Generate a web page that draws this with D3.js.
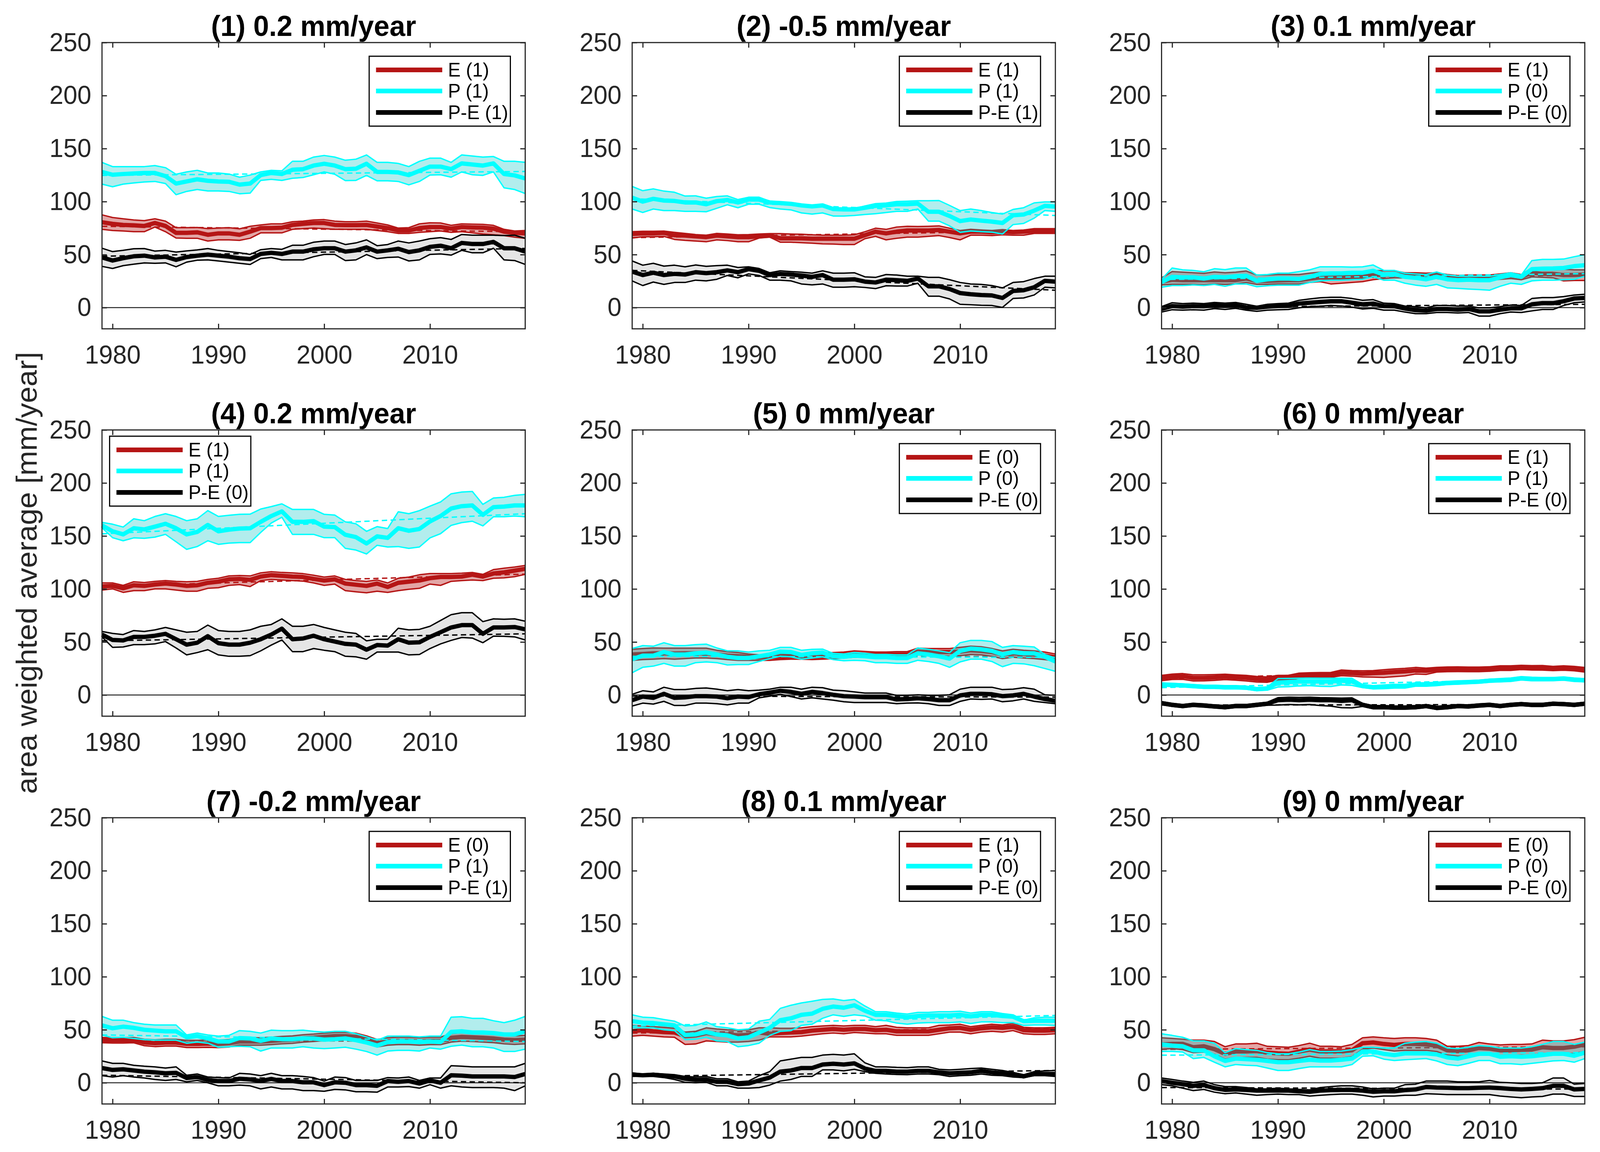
<!DOCTYPE html>
<html>
<head>
<meta charset="utf-8">
<script src="https://cdn.jsdelivr.net/npm/d3@7"></script>
<style>
  html, body { margin: 0; padding: 0; background: #fff; overflow: hidden; width: 100%; height: 100%; }
  svg { display: block; width: 100vw; height: 100vh; }
  text { font-family: "Liberation Sans", Arial, Helvetica, sans-serif; }
</style>
</head>
<body>
<svg id="chart" viewBox="0 0 4204 2950" preserveAspectRatio="none"></svg>
<script>
// ---------------- DATA ----------------
const yearStart = 1979, yearEnd = 2019;
const xTicks = [1980, 1990, 2000, 2010];
const yTicks = [0, 50, 100, 150, 200, 250];
const yLabel = "area weighted average [mm/year]";
const titles = ["(1) 0.2 mm/year", "(2) -0.5 mm/year", "(3) 0.1 mm/year",
                "(4) 0.2 mm/year", "(5) 0 mm/year", "(6) 0 mm/year",
                "(7) -0.2 mm/year", "(8) 0.1 mm/year", "(9) 0 mm/year"];
const legendE = ["E (1)", "E (1)", "E (1)", "E (1)", "E (0)", "E (1)", "E (0)", "E (1)", "E (0)"];
const legendP = ["P (1)", "P (1)", "P (0)", "P (1)", "P (0)", "P (1)", "P (1)", "P (0)", "P (0)"];
const legendD = ["P-E (1)", "P-E (1)", "P-E (0)", "P-E (0)", "P-E (0)", "P-E (0)", "P-E (1)", "P-E (0)", "P-E (0)"];

// Panel 1
const p1E   = [80.5,79,78,77.6,77,79.8,77,70.5,70.5,71,68.7,70,70,68.7,71.6,75,75,75.4,78,79,79.8,79.8,78,77.8,77.8,78,76.5,75,72.7,72.7,75,76,76,74.5,76,75.6,75.4,74.5,71.6,70.5,70];
const p1Ehi = [87.5,85,83.8,82.7,82,83.8,81.6,75.4,75.4,75.6,74.5,75,75.4,74.3,76.7,78,79,79,81,81.6,82.7,83,81.6,81,81,81.6,79.8,78,75,75.4,79,80,79.8,77.6,79,78.7,78.5,77.6,73.8,72.3,72.7];
const p1Elo = [73.8,72.7,72.3,71.6,71.6,76,71.6,65.6,65.4,65.4,62.8,63.9,63.9,63.4,65.4,70.5,70.5,70.5,73.8,74.5,75,74.5,73.8,73.8,73.8,73.8,72.7,71.6,70,70,71,71.6,72.3,71,71.6,70.5,69.4,68.7,67.9,66.5,65.4];
const p1P   = [128,125.3,126,126.5,127,127,124,117,119,121,119.6,119,118.7,116,117,125,127,126,130,130.6,134,135.7,134,130.6,131,135.7,128,128,127.5,125,129,133,133,130.6,136,135,134,136,126,124.7,121.8];
const p1Phi = [137,133,133,133,133,134,132,125.8,128,129.5,127,127,126,123,125,128,129.5,129,138,138,142,143.5,142,139,140,144,137,137,136,133,138,141,141,137,144,143,142,142.5,138,138,137];
const p1Plo = [116.5,114,116.5,117.6,118.5,119,117,106.5,109.6,111.4,110,110,109.6,107.4,108,120,121,120,122,122.7,125.3,128,125.8,119.8,120,124.7,119.6,119.6,119,115.8,119,125,125.3,123,128,125.3,124.7,128,113,111.4,107.6];
const p1D   = [47.3,44.4,46.6,48.4,49,47.3,48,45,47.7,49,50,49,48,46.6,45.8,50.6,51.7,50.6,52.8,52.8,55,56,56,52.8,54,56.8,52.8,54,55.5,52.4,54,57.3,58.4,56,61,60,60,62,56,56,52.8];
const p1Dhi = [56,52.8,54,55.5,55.7,53.3,54,52.4,53.5,54.4,55.7,54,52.8,51.7,50.2,54.6,55.7,55,58.8,58.8,61.7,62.8,62.8,59.5,61,63.9,58.4,59.5,62.8,61,62.8,65,66,64.3,69,68.3,68.3,68.3,67.9,68.3,65.4];
const p1Dlo = [38.9,36.9,39.6,41,42.2,41.8,42.2,38.5,42.9,44.7,45,44,42.9,41.8,40.7,46.2,47.3,45,45,45,48,50.2,50.2,44.4,45,50,46.2,47.3,47.7,44,45,50.2,50.6,49.5,54,51.7,51.7,56,45,44.4,40.7];
const p1Etr = [76.7, 71.5], p1Ptr = [124.7, 128.4], p1Dtr = [48.5, 55.8];

// Panel 2
const p2E   = [69.4,70,70,70.5,68.3,67.9,67.2,66.5,67.9,67.2,66.5,66.5,67.2,67.9,65.4,65.4,65.4,65,65,65,65,65,68.3,71.6,70,71.6,72.7,72.7,72.7,73.2,71.6,70,71.6,71.6,71,71.6,71.2,71.6,72.3,72.3,72.3];
const p2Ehi = [71.6,72,72,72.2,71,70,68.9,68.3,70,69.4,68.7,68.9,69.4,69.8,69.8,69.4,69.2,68.7,68.3,68.3,68.3,68.7,71.6,74.9,73.8,76,76.7,76.5,76.7,77.1,74.9,72.7,73.8,73.2,72.7,73.6,72.7,73.2,74.5,74.5,74.5];
const p2Elo = [65.6,66.8,66.8,67.2,64.3,63.4,62.8,62.1,63.9,63.2,62.1,62.1,65.6,66.5,61.7,61.7,61.2,60.8,60.1,59.9,59.5,59.5,65,67.2,63.9,65.4,66.5,66.5,67.2,67.9,66.1,63.9,68.3,68.3,67.9,68.7,68.3,68.3,70,70,70];
const p2P   = [103.7,100,102.6,101,100.6,99.2,99.2,97.5,100.4,101.5,99.2,101.9,101.9,99.2,98.6,97.9,96.4,95.5,96.4,93,92.6,92.6,94.2,95.9,96.4,97.5,97.5,98.1,90.4,90.4,86.4,81.6,83.1,82,81.1,79.8,87.1,87.8,91.5,95.9,95.3];
const p2Phi = [114.3,110.3,112,109.9,108.8,105.2,105.4,103.2,104.8,105.4,101.9,104.1,104.1,100.4,99.8,98.6,97,95.5,97.5,93.7,93.3,93.3,95.9,98.1,98.6,100.1,100.4,100.8,100.8,101,96.4,91.5,93,91.5,89.7,88.2,92.6,94.2,98.8,99.7,99.7];
const p2Plo = [93,89.7,93,91.5,91.5,90.8,90.8,90.4,93.7,97,94.2,97.5,97.5,94.4,93,92.2,89.3,88.2,89.3,86.4,86.4,86.9,87.8,88.6,89.7,90.8,90.8,93,81.6,81.6,77.1,71,72.3,71.6,71.2,69.4,78.3,79.4,84.4,91.5,90.8];
const p2D   = [34,30.7,32.9,30.7,31.8,31.2,33.4,32.5,33.4,35.1,33.4,36.3,34.7,30.7,31.8,31.2,30.3,29,30.7,26.3,26.3,26.7,24.5,23.7,26.3,25.9,25.2,27.4,20.1,20.1,17.5,13.7,12.6,11.9,11.5,9.1,15.7,16.4,19.2,25.2,24.5];
const p2Dhi = [44,40,41.8,39.1,40,38.5,40.2,38.9,39.6,40,37.8,38.5,36.9,32.9,34.7,34,33.4,32.5,34.7,32.5,32.5,32.9,29,28.5,31.2,30.7,29.6,29.6,28.5,28.5,26.3,23.7,22.3,21.9,20.8,18.6,23.7,24.5,27.4,29.6,29.6];
const p2Dlo = [25.2,20.8,24.1,21.9,23.7,23.7,25.9,25.2,26.7,30.3,28.1,31.8,30.3,25.9,25.9,25.2,22.3,21.4,22.3,19.2,19.2,19.7,19,17.9,20.6,20.3,20.3,23,10.8,10.8,8.2,3.1,2.7,2.2,2,0.2,8.6,9.1,11.9,19.2,18.6];
const p2Etr = [66, 72.5], p2Ptr = [102.7, 86.9], p2Dtr = [35.1, 16.4];

// Panel 3
const p3E   = [24.5,26.3,25.9,25.9,25.9,25.9,25.9,25.9,27.4,25.2,25.2,25.6,25.9,25.9,27.4,28.5,28.1,28.5,28.5,29,30.7,31.2,31.4,30.7,30.7,30.3,30.7,29,28.1,28.5,28.5,28.5,29.6,30.3,29,32.9,31.8,31.8,30.7,30.7,31.2];
const p3Ehi = [28.1,34,33.4,32.9,32.3,33.6,32.9,33.4,34.5,30.7,30.7,31.2,31.2,31.2,32.5,33.4,32.9,33.4,33.4,33.8,35.1,34.7,34.7,32.9,32.9,32.5,32.9,31.2,30.3,30.7,30.7,30.7,31.8,32.9,31.2,37.4,36.9,36.9,36.3,35.6,35.6];
const p3Elo = [21.4,21.9,21.9,21.9,21.4,22.3,21.9,22.3,23.7,21.9,21.9,22.3,22.3,22.3,23.7,24.5,22.3,23,23.7,24.5,26.3,27.4,28.1,28.1,28.1,27.4,27.4,26.3,25.6,25.9,25.9,25.9,26.7,27.4,26.3,29,28.5,28.1,25.2,25.6,25.6];
const p3P   = [24.1,29,28.5,28.5,27.4,29,28.5,29.6,30,25.2,26.7,27.4,27.4,27,29,31.8,32.3,32.3,32.9,32.9,34.7,31.2,31.8,29,28.1,26.7,29,26.7,25.9,26.3,25.9,25.9,28.5,30.7,29,36.3,36.7,36.9,37.4,39.1,40];
const p3Phi = [26.7,37.4,35.6,35.1,33.8,36.7,35.8,37.4,37.4,30.7,31.2,32.5,32.5,34,35.6,38.5,38.5,38.5,38.2,38.5,40.2,35.1,35.1,32.5,31.8,31.2,33.6,30.7,29.6,29.6,29.6,29.6,31.2,32.9,30.7,44.4,45.5,45.5,45.8,48,50];
const p3Plo = [19.2,20.8,20.8,21.4,20.8,21.9,20.1,22.3,22.3,19.7,20.6,21.2,21.2,21.2,23.7,25.2,25.9,25.9,26.3,26.7,29,25.9,25.9,23,21.2,20.1,21.9,18.6,18.1,17.5,17,16.4,20.1,23,21.9,25.2,25.9,25.9,26.3,26.7,29.6];
const p3D   = [-1.3,1.5,0.9,1.5,1.3,2.4,2,2.4,0.2,-0.2,0.9,1.5,2,3.8,4.6,5.3,6,6,4.6,3.1,3.8,1.5,1.3,-0.9,-2.4,-2.9,-1.3,-1.3,-2,-1.3,-3.5,-3.5,-2,-0.7,-0.7,3.1,4.2,4.2,6,8.6,9.1];
const p3Dhi = [0.9,4.6,3.8,4.2,3.8,4.9,4.2,4.9,3.1,1.3,3.1,3.8,4.2,6.9,8.2,9.3,9.7,9.7,8.6,6.9,7.5,4.2,3.8,1.5,0.9,-0.2,2,2,1.5,1.5,-0.2,-0.2,0.9,2.4,2,8.6,9.5,9.5,10.4,11.9,12.6];
const p3Dlo = [-4.2,-2,-2.4,-2,-2.4,-0.9,-1.8,-0.7,-2.4,-3.5,-2.4,-2,-1.8,-0.2,0.9,1.3,2,1.5,0.4,-1.3,-0.7,-2.4,-2.4,-4.2,-5.7,-5.7,-4.6,-4.6,-5.1,-4.6,-8,-8,-5.7,-4.2,-4.6,-3.1,-1.8,-1.8,2,4.6,5.3];
const p3Etr = [26.5, 30.5], p3Ptr = [26.5, 32], p3Dtr = [0.2, 3.1];

// Panel 4
const p4E   = [102.4,102.9,100.7,103.5,102.9,104.2,105.1,104.2,102.9,103.5,105.8,106.9,109.1,109.5,108.6,111.7,113.1,112.4,111.7,111.3,109.5,108,109.1,105.1,104,102.9,105.1,101.9,105.8,106.9,108,110.2,111.3,111.3,111.7,113.5,111.7,114.6,115.7,117.3,119];
const p4Ehi = [105.7,105.7,103.4,106.8,106.1,107.2,107.9,107.2,106.8,107.2,109,110.1,112.3,112.7,112.3,115.2,116.3,115.6,115.2,114.5,113,111.2,112.3,109,107.9,107.2,108.5,105.7,110.1,111.2,113.4,114.5,114.5,114.5,114.9,115.6,113.8,118.3,119.6,120.7,122.2];
const p4Elo = [99,100.1,96.8,98.4,98.4,100.1,100.1,99,97.9,97.9,100.6,101.2,103.4,104.1,102.3,107.9,109,108.5,107.9,107.4,105.7,103.4,104.6,98.4,97.3,96.4,97.9,96.8,98.4,99.7,100.6,104.6,103.4,107.2,107.9,108.5,107.9,110.1,110.5,111.6,113.8];
const p4P   = [160,154.4,151.5,157.3,156.2,158.8,161.5,157.3,151.5,153.8,160.4,154.4,156,157,157.3,163.3,168.8,173.2,163.3,163.3,164,158.8,158.4,151.1,148.9,142.9,149.6,148.2,157.3,154.9,156.6,163.7,168.8,175.9,178.1,178.8,169.9,177.2,177.7,178.8,178.8];
const p4Phi = [162.8,161.1,158.4,166.2,164.4,168.4,171,168.4,164.4,166.2,173.9,168.4,169.5,170.4,170.6,175.4,177.7,180.3,175,175,175,170.4,169.7,163.3,161.5,154.4,158.8,157,172.8,171,173.9,178.1,182.1,189.8,191.4,192,179.8,185.8,186.5,188.3,189.2];
const p4Plo = [157.7,148.4,145.5,148.2,147.8,148.9,151.5,144.5,137.4,140,145.5,142.1,143.3,143.7,143.7,153.3,162.2,167.7,151.5,151.5,151.5,148.4,148.4,138.3,136.7,133,141.2,139.6,140,138.3,139.6,148.2,152.2,160,162.6,163.9,159.5,168.1,168.1,168.8,168.1];
const p4D   = [57,51.9,51.5,54.8,54.8,55.9,57.7,52.6,47.5,49.3,55.5,48.9,47.5,47.5,49.3,52.6,57,62.6,52.6,53.3,55.9,52.6,50.4,48.2,47.5,42.7,47.1,46.6,52.6,49.3,49.7,54.8,59.2,63.7,65.9,65.9,57.7,63.7,63.7,64.1,61.9];
const p4Dhi = [59.9,58.1,57,60.8,59.9,61.4,63.7,61.4,59.2,59.9,65.9,60.8,59.9,59.9,61.4,64.8,66.5,71.8,64.8,64.8,66.5,63.7,61.4,59.2,58.1,51.1,52.6,52.6,63,61.4,61.9,64.8,70.3,75.8,77.6,77.6,69.2,71.8,71.4,71.8,69.6];
const p4Dlo = [54.8,44.9,45.3,47.5,47.5,48.2,50.4,44.4,37.8,40,42.7,37.8,36.5,36.5,37.1,41.6,47.1,51.9,40.9,40.9,43.8,42.2,40.9,36.5,36,33.8,40.5,40.5,40.5,37.8,38.2,43.8,48.2,51.5,54.2,53.7,49.3,55.5,55.3,54.8,51.9];
const p4Etr = [102.5, 114], p4Ptr = [152, 171], p4Dtr = [51.1, 57.7];

// Panel 5
const p5E   = [38.2,38.7,39.3,39.3,39.1,39.3,39.3,39.3,38.2,37.1,36.5,36,35.6,35.6,36,36.5,36.5,36,36.5,37.1,37.8,38.7,38.2,37.8,37.8,38.2,38.2,40.9,40.5,40.5,40.5,40.9,42.2,41.6,40.5,38.2,39.3,38.7,38.2,37.1,35.6];
const p5Ehi = [43.1,43.8,44.4,44.2,44.2,44.2,44.2,44.2,42.2,40.9,40,38.7,37.8,38.2,38.7,38.7,38.7,38.7,39.3,40,40.5,41.6,41.1,40.5,40.5,40.9,40.9,44.2,43.8,43.8,43.8,44.9,46,45.5,43.8,41.6,43.1,42.2,41.6,40.5,38.7];
const p5Elo = [32.7,33.4,33.8,34.3,33.8,34.3,34.9,34.9,34.3,33.4,32.7,32.7,32.7,32.7,33.4,33.8,33.8,33.4,33.8,34.3,34.9,35.6,35.6,34.9,34.9,35.6,35.6,37.8,37.1,37.1,36.5,37.1,38.2,37.8,36.5,34.3,35.6,34.9,34.3,33.4,32.1];
const p5P   = [33.8,37.1,37.1,40.5,38.2,38.2,39.3,40,38.2,36,34.9,34.9,36.5,38.2,40.9,40.5,37.8,39.3,40,36.5,36,37.1,36.5,35.6,35.6,34.9,34.9,39.3,38.2,36.5,34.3,41.6,43.8,43.1,41.6,38.2,40.5,39.3,39.3,36,31.6];
const p5Phi = [43.8,46.6,46,49.3,46.6,46.6,47.5,48,44.4,41.6,41.6,40.5,41.6,42.2,44.9,44.9,42.2,43.1,43.3,39.3,38.7,40,39.3,38.2,38.2,37.8,37.8,44.4,43.1,41.6,40,49.3,51.5,51.5,50.4,44.9,46.6,46,45.3,38.2,34.9];
const p5Plo = [21,26.1,27.2,29.8,27.2,27.2,30.5,31.2,30.5,28.3,28.7,28.7,31.6,34.3,36.5,36,33.8,34.9,36,33.4,32.3,32.7,32.3,30.5,30.5,29.8,29.8,32.7,31.6,29.8,26.1,31.2,33.8,33.8,31.6,26.7,29.8,29.4,27.6,25,22.3];
const p5D   = [-4.9,-1.5,-2.7,1.1,-2.7,-2.2,-1.1,-1.1,-1.5,-3.1,-1.5,-2,0.7,2.2,4,2.9,1.1,2.9,1.8,0.2,-1.1,-1.5,-2,-2,-2,-4.2,-3.8,-3.1,-3.8,-4.9,-4.9,-0.4,1.1,1.1,0.7,-1.1,-0.4,1.1,-1.5,-3.8,-5.5];
const p5Dhi = [0.7,4,2.9,7.3,5.1,5.1,6.2,6.6,5.5,4,5.1,4,4.6,5.5,7.3,7.3,5.5,7.3,6.9,4.6,4,2.9,1.8,1.8,1.8,-0.4,-0.4,0.2,-0.4,-0.4,0.2,5.5,7.3,7.3,7.3,5.1,5.5,6.9,5.5,0.2,-0.4];
const p5Dlo = [-10.4,-7.7,-8.6,-6,-9.9,-9.9,-7.7,-7.7,-8.2,-9.3,-7.7,-7.7,-2.7,-1.1,0.7,-1.5,-3.8,-2.7,-3.8,-4.9,-6.4,-7.1,-7.1,-7.1,-7.1,-8.2,-7.7,-7.5,-8.2,-9.9,-9.9,-6,-3.8,-4.2,-3.8,-6.4,-5.5,-3.8,-6,-7.1,-8.2];
const p5Etr = [37.5, 36], p5Ptr = [36.5, 35.5], p5Dtr = [-1, -2];

// Panel 6
const p6E   = [16.1,17.2,17.7,16.1,16.1,16.6,17.2,16.6,16.1,15,14.4,16.6,16.6,18.3,18.8,19,19,21,20.6,20.1,20.6,21,21.7,22.3,23.2,22.8,23.9,24.3,24.3,23.9,23.9,24.5,25.4,25.4,26.1,25.6,25.6,25,25.4,25,23.9];
const p6Ehi = [18.5,19.7,20.2,19,19,19.2,19.6,19,18.5,17.5,17,18.5,18.6,20.6,21,21.2,21.3,23.6,23,22.8,23,23.8,24.6,25.1,26,25.3,26,26.4,26.5,26.3,26.3,26.6,27.5,27.5,28,27.7,27.8,27,27.5,27,26];
const p6Elo = [13.5,14.6,14.8,13.2,13.3,13.8,14.5,14,13.2,12.2,12,14,14,15.8,16.2,16.5,16.6,18.2,17.8,17,16.8,16.6,17.3,18,19.8,19.4,21.6,22,22.1,22,22,22.4,23.2,23.2,24,23.6,23.5,23,23.4,22.8,21.6];
const p6P   = [9.9,9.5,9.1,8.4,7.7,7.7,7.3,7.3,6.9,5.5,6.2,11.7,12.2,12.8,12.8,12.8,12.8,13.5,12.8,8.4,7.3,7.7,8.4,8.4,9.9,9.9,10.4,11.3,11.7,12.2,12.6,13.5,13.9,14.4,15.7,15,15,15,15.5,14.4,13.9];
const p6Phi = [11.3,11,10.5,9.8,9.2,9.2,8.8,8.8,8.3,7,7.6,15.5,15.6,15.8,15.9,15.8,15.8,15.8,15.7,9.8,8.8,9.5,10,10,11.5,11.5,12,12.8,13.3,13.5,14,14.9,15.5,16,17.3,16.7,16.5,16.5,17,16,15.4];
const p6Plo = [8.4,8,7.6,6.9,6.2,6.2,5.8,5.8,5.4,4,4.6,7.5,7.8,8.5,8.8,8.2,8,9.5,9,7,5.8,6,6.5,6.5,8.3,8.3,8.8,9.8,10.2,10.7,11.1,12,12.4,12.8,14.2,13.4,13.4,13.5,14,12.8,12.4];
const p6D   = [-7.7,-9.3,-10.4,-9.3,-9.9,-10.8,-11.5,-10.4,-10.4,-9.3,-8.2,-4.9,-4.4,-4.9,-4.4,-4.9,-4.9,-5.5,-4.9,-9.3,-11.5,-11.5,-11.9,-11.9,-11.5,-10.4,-12.2,-11.5,-10.4,-10.8,-9.9,-9.3,-10.4,-9.3,-8.6,-9.3,-9.3,-8.2,-8.6,-9.3,-8.2];
const p6Dhi = [-6.2,-7.8,-8.9,-7.8,-8.4,-9.3,-10,-8.9,-8.9,-7.8,-6.8,-2.5,-2,-2.2,-2,-2.5,-2.7,-3,-2.7,-7.8,-10,-10,-10.4,-10.4,-10,-9,-10.7,-10,-9,-9.3,-8.4,-7.8,-8.9,-7.8,-7.2,-7.8,-7.8,-6.8,-7.2,-7.8,-6.8];
const p6Dlo = [-9.2,-10.8,-11.9,-10.8,-11.4,-12.3,-13,-11.9,-11.9,-10.8,-9.7,-9.5,-9,-9.3,-9,-10,-10.5,-12,-12.2,-10.8,-13,-13,-13.4,-13.4,-13,-11.9,-13.7,-13,-11.9,-12.3,-11.4,-10.8,-11.9,-10.8,-10.1,-10.8,-10.8,-9.7,-10.1,-10.8,-9.7];
const p6Etr = [15.5, 25.5], p6Ptr = [7, 15.5], p6Dtr = [-9.5, -9];

// Panel 7
const p7E   = [40.2,40,40,40.2,38,37.3,37.8,37.8,36.6,36.6,36.9,36.6,37.3,38.9,38.9,38.9,39.5,40.2,40.7,41.8,42.4,43.3,44,44,43.3,40.7,37.3,38.9,39.5,39.5,38.9,39.5,39.5,42.4,43.3,42.9,42.4,41.8,40.7,40.2,40.7];
const p7Ehi = [42.7,42.5,42.5,42.7,41,40.5,41,41,40,40,40.4,40.1,40.8,42.4,42.4,42.4,43,43.7,44.2,45.3,45.9,46.8,47.5,47.5,46.8,44.2,40.8,42.4,43,43,42.4,43,43,46.4,47.3,46.9,46.4,45.8,44.7,44.2,44.7];
const p7Elo = [37.7,37.5,37.5,37.7,35,34.1,34.6,34.6,33.2,33.2,33.4,33.1,33.8,35.4,35.4,35.4,36,36.7,37.2,38.3,38.9,39.8,40.5,40.5,39.8,37.2,33.8,35.4,36,36,35.4,36,36,38.4,39.3,38.9,38.4,37.8,36.7,36.2,36.7];
const p7P   = [54.1,51.4,52.9,51.8,50,49.2,48.5,48.5,42.9,44,41.8,38.9,38.9,42.2,41.8,39.5,41.8,41.1,41.1,41.8,41.8,40.7,41.1,41.8,40.2,38,35.1,38.4,38.9,38.9,38.4,38.9,38.4,48,48.5,47.4,47.4,46.9,45.6,45.6,48.5];
const p7Phi = [62.6,59,59,56.7,55.2,54.5,54.5,54.5,45.1,46.9,45.1,44,44.7,49.2,48.5,46.9,49.6,49.2,49.2,49.6,48.5,47.8,48.5,48.5,46.2,43.3,40.2,44,44,44,43.3,44,44,61.9,62.3,60.8,60.8,58.5,56.7,59,62.6];
const p7Plo = [45.1,42.4,42.9,41.8,40.7,40.2,40.2,40.2,37.3,38.4,37.3,33.5,34,34.4,34,29.9,32.8,32.8,32.8,34,32.8,32.2,32.8,33.5,31.7,29.5,26.1,29.9,30.6,30.6,29.9,32.8,31.7,34.4,35.5,34,34,32.8,29.5,29.5,31.7];
const p7D   = [13.9,12.1,12.7,11.6,10.5,9.8,8.9,9.4,4.5,5.4,2.7,1.6,1.6,3.8,3.1,1.6,3.6,1.6,1.6,0.4,0.4,-2.2,0.4,0,-2.2,-2.2,-2.9,1.6,0.9,1.6,-0.7,2.2,0,7.1,6.7,6,6,6,6,5.4,8.3];
const p7Dhi = [20.6,18.3,18.3,16.5,15.6,15,13.9,15,7.1,8.3,5.4,4.9,4.5,8.9,8.3,6.7,8.9,6.7,6.7,6,4.9,1.6,5.4,4.9,2.2,2.2,2.2,4.9,4.5,5.4,2.2,4.5,4.5,16.1,15.6,15,15,15,15,15,18.3];
const p7Dlo = [6.7,5.4,6.7,5.4,4.5,3.1,2.2,3.1,0.9,2.2,0,-2.9,-2.9,-2.2,-2.9,-5.8,-4,-5.8,-5.8,-7.4,-7.4,-8,-6.3,-6.7,-8.5,-8.5,-8.9,-4,-4,-3.6,-5.1,-1.8,-5.1,-2.9,-4,-4.5,-4.5,-4.5,-5.1,-7.4,-2.9];
const p7Etr = [40, 39], p7Ptr = [45.1, 38.9], p7Dtr = [7.1, 0];

// Panel 8
const p8E   = [48.5,49.6,48.5,47.8,47.4,44,44.7,46.9,45.6,45.6,44.7,45.1,47.4,46.2,46.9,47.4,47.8,49.2,50,50.7,50,50.7,50.7,49.6,50,48.5,48.5,48.5,48.5,50,51.4,51.8,50,51.4,52.3,51.8,52.9,49.6,49.2,49.2,49.6];
const p8Ehi = [54.1,53.6,52.9,52.3,51.4,47.8,48.5,51.8,50.7,50,49.6,50,51.8,51.8,51.4,51.4,51.8,52.9,53.6,54.1,53.6,54.1,54.1,52.9,54.1,52.3,51.8,51.8,51.8,54.1,54.5,55.2,52.9,54.1,55.2,54.5,55.9,52.3,51.8,51.8,52.3];
const p8Elo = [44,44.7,44,43.3,42.9,36.2,36.6,39.5,38.9,38.4,38.4,38.9,40.2,43.3,43.3,43.3,44,45.1,46.2,46.9,46.2,47.4,46.9,46.2,46.2,44.7,44.7,44.7,44.7,46.2,47.8,47.8,46.2,47.8,48.5,47.8,49.2,46.2,45.6,45.6,46.2];
const p8P   = [58.1,56.7,56.3,55.2,54.1,45.1,45.6,47.8,45.6,44.7,41.8,42.9,47.4,51.8,59,60.8,64.1,65.2,69.7,71.9,70.8,73.1,67.9,64.1,64.1,63,61.9,63,63.4,63.4,63.4,64.1,62.6,64.1,64.1,63,62.3,58.1,58.5,58.5,58.5];
const p8Phi = [64.1,61.9,61.4,59.7,58.1,53.6,54.1,57.4,52.9,51.8,50,50.7,58.1,59.7,70.2,73.1,75.3,76.9,78.6,79.1,77.5,78.6,72.4,67,67,65.7,64.8,66.4,66.4,67,67,67.5,65.7,67,67,65.3,64.1,59,61.2,61.9,61.9];
const p8Plo = [51.8,51.8,51.8,50,49.2,40.7,41.1,42.9,39.5,38.9,34,35.1,37.3,44.7,48.5,49.2,54.1,55.2,60.8,64.1,62.6,64.1,63,59,58.5,56.3,55.2,56.3,56.7,56.7,56.7,57.4,55.9,57.4,57.4,56.7,56.7,54.1,54.5,54.5,54.1];
const p8D   = [7.6,7.1,7.6,6.7,6,3.8,2.7,3.1,0.9,0.9,-1.3,-0.7,2.2,4.9,10.5,11.6,13.9,13.9,17.2,17.9,17.2,18.3,13.4,11.2,11.2,10.5,10.5,11.2,11.2,9.8,8.9,9.4,9.8,11.2,9.8,8.9,7.6,6,8.3,8.3,8.3];
const p8Dhi = [9.4,8.3,8.9,8.3,7.6,6,5.4,6,3.8,3.8,0.9,1.6,6.7,10.5,20.6,22.3,23.9,23.9,26.1,26.8,26.1,27.3,18.8,15,15,14.5,14.3,15,15,12.7,12.1,12.7,13.4,13.9,12.7,11.6,9.8,7.6,10.5,11.2,11.6];
const p8Dlo = [6.7,6,6,4.9,3.1,0.4,0,0.4,-2.9,-2.9,-5.1,-5.1,-4.5,-2.2,1.6,3.1,6,6,12.1,12.1,11.2,12.7,10.5,8.9,8.3,7.8,7.6,8.3,8.3,7.6,6,6.7,7.1,8.3,7.1,6.7,5.4,4.9,6.7,6.7,6];
const p8Etr = [46.9, 51.8], p8Ptr = [53.5, 63.5], p8Dtr = [6, 11.6];

// Panel 9
const p9E   = [36.2,36.6,36.6,33.5,34.4,31.7,27.3,29.5,29.5,29.9,28.4,27.7,27.3,29.5,31.3,29.5,29.5,29.5,30.6,37.3,38,36.6,35.7,36.6,36.6,36.2,35.1,30.6,29.9,30.6,32.8,32.2,30.6,30.6,31.1,31.3,33.5,32.8,32.8,34,36.2];
const p9Ehi = [42.4,41.8,41.1,40.2,40.2,38.9,34,36.6,36.6,37.3,34.4,34,33.5,35.1,37.3,34.4,34.4,34,36.2,42.4,43.3,42.4,41.8,42.4,42.4,41.8,40.2,34.4,34.4,35.1,38,36.6,35.7,36.2,36.2,36.6,40.2,39.5,39.5,40.7,42.9];
const p9Elo = [31.7,32.2,31.3,28.4,29,26.8,22.3,23.9,23.9,23.9,22.3,21.7,21.7,23.2,25,23.2,23.2,23.2,24.6,31.7,32.8,31.3,29.9,30.6,30.6,30.6,29.5,26.1,25,25.5,27.7,27.3,25.5,25.5,26.1,26.1,27.7,27.3,27.3,27.7,29.5];
const p9P   = [36.2,35.1,34.4,30.6,30.6,25,20.6,22.8,22.3,21.7,20.6,19.4,19.4,20.6,21.7,21,21,21.7,22.8,29.5,29.5,27.3,26.1,27.7,27.7,27.7,26.8,23.9,22.8,25,27.3,27.3,24.6,25,24.6,25,26.1,27.3,27.3,25.5,28.4];
const p9Phi = [46.2,44.7,42.9,39.5,39.5,37.3,28.4,32.2,31.3,30.6,28.4,27.3,27.3,29,31.3,29.5,29.5,29.9,31.3,33.5,33.5,32.8,32.8,37.3,38.4,38.9,37.3,32.8,32.2,33.5,35.1,34.4,32.8,32.8,32.8,34,36.2,38.9,38.9,36.2,38.4];
const p9Plo = [29.5,29.5,29,22.8,23.9,19.4,15,17.2,16.5,16.1,13.9,11.6,11.6,13.4,15,15,15,15,17.2,25,25.5,22.3,21,21.7,22.3,22.8,20.6,17.2,16.1,18.3,21,21,17.9,17.9,17.2,18.3,19.4,20.6,21,19.4,22.8];
const p9D   = [1.6,0,-1.3,-2.9,-2.2,-5.1,-6.7,-6.3,-6.7,-7.4,-7.4,-7.4,-7.4,-8,-8.5,-7.4,-6.9,-6.7,-6.7,-7.4,-8.5,-8,-8,-6.9,-6.3,-4,-4.5,-4.7,-5.1,-5.1,-4.7,-4.5,-5.1,-5.8,-6.3,-5.8,-5.1,-2.9,-2.9,-6.3,-5.8];
const p9Dhi = [4.5,3.1,1.6,0.4,1.6,-1.8,-3.6,-3.6,-4.5,-5.8,-5.8,-5.1,-5.8,-6.3,-6.7,-4.5,-3.6,-2.9,-2.9,-4,-5.8,-5.1,-5.1,-1.8,-1.3,1.6,1.6,1.6,0.9,0.9,0.9,2.2,0.4,0,-0.7,-0.7,0,4.5,4.5,-1.3,-0.7];
const p9Dlo = [-1.8,-2.9,-5.1,-7.4,-6.3,-8.9,-10.3,-9.6,-10.7,-11.8,-11.2,-10.7,-11.2,-11.2,-12.5,-11.8,-11.2,-10.7,-10.7,-11.8,-13.4,-12.5,-12.5,-11.8,-11.8,-10.3,-10.7,-11.2,-11.2,-11.2,-11.2,-11.2,-12.5,-13.4,-14.1,-13.4,-12.9,-10.7,-10.7,-12.9,-12.9];
const p9Etr = [31.5, 34], p9Ptr = [26, 28.5], p9Dtr = [-4.5, -6];

// table built from the arrays above
const panels = [
  {E:[p1E,p1Elo,p1Ehi,p1Etr], P:[p1P,p1Plo,p1Phi,p1Ptr], D:[p1D,p1Dlo,p1Dhi,p1Dtr]},
  {E:[p2E,p2Elo,p2Ehi,p2Etr], P:[p2P,p2Plo,p2Phi,p2Ptr], D:[p2D,p2Dlo,p2Dhi,p2Dtr]},
  {E:[p3E,p3Elo,p3Ehi,p3Etr], P:[p3P,p3Plo,p3Phi,p3Ptr], D:[p3D,p3Dlo,p3Dhi,p3Dtr]},
  {E:[p4E,p4Elo,p4Ehi,p4Etr], P:[p4P,p4Plo,p4Phi,p4Ptr], D:[p4D,p4Dlo,p4Dhi,p4Dtr]},
  {E:[p5E,p5Elo,p5Ehi,p5Etr], P:[p5P,p5Plo,p5Phi,p5Ptr], D:[p5D,p5Dlo,p5Dhi,p5Dtr]},
  {E:[p6E,p6Elo,p6Ehi,p6Etr], P:[p6P,p6Plo,p6Phi,p6Ptr], D:[p6D,p6Dlo,p6Dhi,p6Dtr]},
  {E:[p7E,p7Elo,p7Ehi,p7Etr], P:[p7P,p7Plo,p7Phi,p7Ptr], D:[p7D,p7Dlo,p7Dhi,p7Dtr]},
  {E:[p8E,p8Elo,p8Ehi,p8Etr], P:[p8P,p8Plo,p8Phi,p8Ptr], D:[p8D,p8Dlo,p8Dhi,p8Dtr]},
  {E:[p9E,p9Elo,p9Ehi,p9Etr], P:[p9P,p9Plo,p9Phi,p9Ptr], D:[p9D,p9Dlo,p9Dhi,p9Dtr]}
];

// ---------------- LAYOUT / STYLE ----------------
const colLeft = [268, 1661, 3052];
const rowTop = [109, 1101, 2094];
const W = 1112, H = 733;
const axisColor = "#262626";
const series = [
  {key: "E", color: "#b51515", fill: "#b51515", fillOpacity: 0.38},
  {key: "P", color: "#00ffff", fill: "#00c4c4", fillOpacity: 0.3},
  {key: "D", color: "#000000", fill: "#000000", fillOpacity: 0.1}
];
const years = d3.range(yearStart, yearEnd + 1);

const svg = d3.select("#chart");
svg.append("rect").attr("width", 4204).attr("height", 2950).attr("fill", "#fff");

const x = d3.scaleLinear().domain([yearStart, yearEnd]).range([0, W]);
const y = d3.scaleLinear().domain([-20, 250]).range([H, 0]);

panels.forEach((pd, i) => {
  const col = i % 3, row = Math.floor(i / 3);
  const g = svg.append("g").attr("transform", `translate(${colLeft[col]},${rowTop[row]})`);

  // zero line
  g.append("line").attr("x1", 0).attr("x2", W).attr("y1", y(0)).attr("y2", y(0))
    .attr("stroke", axisColor).attr("stroke-width", 2.5);

  series.forEach(s => {
    const [mean, lo, hi, tr] = pd[s.key];
    const area = d3.area().x((d, j) => x(years[j])).y0((d, j) => y(lo[j])).y1((d, j) => y(hi[j]));
    const line = d3.line().x((d, j) => x(years[j])).y(d => y(d));
    g.append("path").attr("d", area(mean)).attr("fill", s.fill).attr("fill-opacity", s.fillOpacity).attr("stroke", "none");
    g.append("path").attr("d", line(hi)).attr("fill", "none").attr("stroke", s.color).attr("stroke-width", 3.5).attr("stroke-linejoin", "round");
    g.append("path").attr("d", line(lo)).attr("fill", "none").attr("stroke", s.color).attr("stroke-width", 3.5).attr("stroke-linejoin", "round");
    g.append("line").attr("x1", x(yearStart)).attr("x2", x(yearEnd)).attr("y1", y(tr[0])).attr("y2", y(tr[1]))
      .attr("stroke", s.color).attr("stroke-width", 3.5).attr("stroke-dasharray", "14,9");
    g.append("path").attr("d", line(mean)).attr("fill", "none").attr("stroke", s.color).attr("stroke-width", 11).attr("stroke-linejoin", "round");
  });

  // axes (ticks inward, box)
  const fontTick = 66;
  const yAxisL = d3.axisLeft(y).tickValues(yTicks).tickSize(-13).tickPadding(28).tickFormat(d3.format("d"));
  const yAxisR = d3.axisRight(y).tickValues(yTicks).tickSize(-13).tickFormat("");
  const xAxisB = d3.axisBottom(x).tickValues(xTicks).tickSize(-13).tickPadding(42).tickFormat(d3.format("d"));
  const xAxisT = d3.axisTop(x).tickValues(xTicks).tickSize(-13).tickFormat("");
  const styleAxis = sel => {
    sel.selectAll("path.domain").remove();
    sel.selectAll("line").attr("stroke", axisColor).attr("stroke-width", 3);
    sel.selectAll("text").attr("fill", axisColor).attr("font-size", fontTick).attr("font-family", "'Liberation Sans', Arial, sans-serif");
  };
  g.append("g").call(yAxisL).call(styleAxis);
  g.append("g").attr("transform", `translate(${W},0)`).call(yAxisR).call(styleAxis);
  g.append("g").attr("transform", `translate(0,${H})`).call(xAxisB).call(styleAxis);
  g.append("g").call(xAxisT).call(styleAxis);
  g.append("rect").attr("x", 0).attr("y", 0).attr("width", W).attr("height", H)
    .attr("fill", "none").attr("stroke", axisColor).attr("stroke-width", 3);

  // title
  g.append("text").attr("x", W / 2).attr("y", -17).attr("text-anchor", "middle")
    .attr("font-size", 74).attr("font-weight", "bold").attr("fill", "#000").text(titles[i]);

  // legend
  const lw = 371, lh = 179;
  const lx = (i === 3) ? 20 : W - 39 - lw;
  const ly = (i === 3) ? 16 : 35;
  const lg = g.append("g").attr("transform", `translate(${lx},${ly})`);
  lg.append("rect").attr("width", lw).attr("height", lh).attr("fill", "#fff").attr("stroke", "#000").attr("stroke-width", 3);
  const labels = [legendE[i], legendP[i], legendD[i]];
  const rowsY = [35, 89, 144];
  series.forEach((s, k) => {
    lg.append("line").attr("x1", 18).attr("x2", 192).attr("y1", rowsY[k]).attr("y2", rowsY[k])
      .attr("stroke", s.color).attr("stroke-width", 12);
    lg.append("text").attr("x", 207).attr("y", rowsY[k]).attr("dy", "0.35em")
      .attr("font-size", 50).attr("fill", "#000").text(labels[k]);
  });
});

// y axis label
svg.append("text").attr("transform", `translate(96,1467) rotate(-90)`)
  .attr("text-anchor", "middle").attr("font-size", 76).attr("fill", axisColor).text(yLabel);
</script>
</body>
</html>
